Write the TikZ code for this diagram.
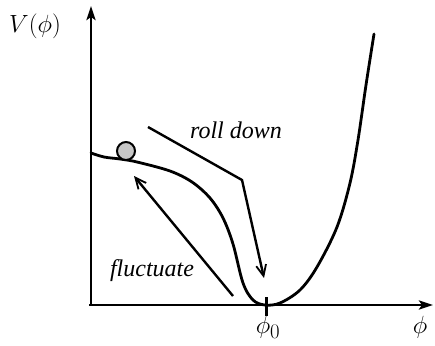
\documentclass[tikz,border=0pt]{standalone}
\usepackage{fontspec}
\setmainfont{Liberation Serif}
\usetikzlibrary{arrows.meta}
\begin{document}
\begin{tikzpicture}[x=1pt,y=-1pt,
  axis/.style={line width=2.8pt,-{Stealth[length=14pt,width=9pt,inset=3pt]}},
  curve/.style={line width=2.8pt,line join=round,line cap=round},
  motion/.style={line width=2.4pt,line join=miter,-{Straight Barb[length=11pt,width=10pt,line width=1.8pt]}},
  lbl/.style={font=\fontsize{24}{28}\selectfont\itshape},
  mlbl/.style={font=\fontsize{28}{32}\selectfont}]
\useasboundingbox (0,0) rectangle (435,345);
% axes
\coordinate (O) at (91,305);
\coordinate (ytop) at (91,6);
\coordinate (xend) at (433,305);
\draw[line width=2.8pt] (O) -- (89,305);
\draw[axis] (O) -- (ytop);
\draw[axis] (89,305) -- (xend);
% tick
\coordinate (t1) at (266,297);
\coordinate (t2) at (266,316);
\draw[line width=3pt] (t1) -- (t2);
% labels
\node[mlbl] (V) at (35,26) {$V(\phi)$};
\node[mlbl] (phi0) at (268,327) {$\phi_0$};
\node[mlbl] (phi) at (420,327) {$\phi$};
\node[lbl] (roll) at (236,130) {roll down};
\node[lbl] (fluc) at (152,271) {fluctuate};
% potential curve
\draw[curve] plot[smooth,tension=0.55] coordinates {
 (91,153) (104,157) (120,159) (137,162) (170,171) (192,182) (210,198)
 (223,218) (233,244) (243,283) (253,300) (265,305) (280,303) (300,290) (317,267)
 (337,227) (350,183) (358,140) (366,85) (374,34)};
% ball
\node[circle,draw,line width=2pt,fill=black!22,minimum size=18pt,inner sep=0pt] (ball) at (126,151) {};
% roll down arrow
\coordinate (r1) at (148,127);
\coordinate (r2) at (242,180);
\coordinate (r3) at (264,278);
\draw[motion] (r1) -- (r2) -- (r3);
% fluctuate arrow
\coordinate (f1) at (233,296);
\coordinate (f2) at (134,176);
\draw[motion] (f1) -- (f2);
\end{tikzpicture}
\end{document}
